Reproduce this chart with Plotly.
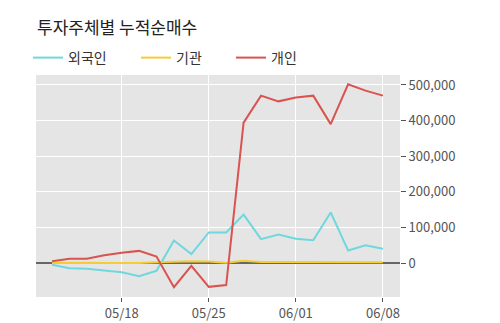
import plotly.graph_objects as go

dates = ["05/12", "05/13", "05/14", "05/15", "05/18", "05/19", "05/20", "05/21", "05/22",
         "05/25", "05/26", "05/27", "05/28", "05/29", "06/01", "06/02", "06/03", "06/04",
         "06/05", "06/08"]
foreign = [-5000, -15000, -16000, -20000, -26000, -37000, -22000, 63000, 25000, 86000,
           86000, 136000, 67000, 80000, 68000, 64000, 142000, 35000, 50000, 40000]
institution = [0, 1000, 1000, 0, -1000, 0, 2000, 4000, 5000, 4000,
               1000, 6000, 3000, 3000, 3000, 3000, 3000, 2000, 2000, 2000]
individual = [5000, 12000, 12000, 22000, 29000, 34000, 18000, -68000, -8000, -67000,
              -62000, 394000, 470000, 454000, 465000, 470000, 390000, 502000, 484000, 470000]
tick_labels = ["05/18", "05/25", "06/01", "06/08"]
tick_values = [0, 100000, 200000, 300000, 400000, 500000]

FONT = "Noto Sans CJK KR"

series = [("외국인", foreign, "#6fd8dc", "legend", 28),
          ("기관", institution, "#f5cc35", "legend2", 136),
          ("개인", individual, "#d9534f", "legend3", 231)]

fig = go.Figure()
legends = {}
for name, vals, color, lg, lx in series:
    fig.add_trace(go.Scatter(x=dates, y=vals, name=name, mode="lines",
                             line=dict(color=color, width=2), legend=lg))
    legends[lg] = dict(orientation="h", xref="container", yref="container",
                       x=lx/500, xanchor="left", y=1 - 58/323, yanchor="middle",
                       font=dict(family=FONT, size=14, color="#333333"),
                       bgcolor="rgba(0,0,0,0)")

fig.update_layout(
    width=500, height=323,
    margin=dict(l=36, r=100, t=75, b=26, autoexpand=False),
    paper_bgcolor="white",
    plot_bgcolor="#e5e5e5",
    font=dict(family=FONT, color="#555555", size=13),
    title=dict(text="투자주체별 누적순매수", x=37/500, xanchor="left", xref="container",
               y=1 - 28/323, yanchor="middle", yref="container",
               font=dict(family=FONT, size=17, color="#222222")),
    showlegend=True,
    **legends,
)
fig.update_xaxes(type="category", range=[-0.92, 19.98], tickmode="array",
                 tickvals=tick_labels, ticktext=tick_labels,
                 showgrid=True, gridcolor="white", gridwidth=1,
                 ticks="outside", ticklen=4, tickcolor="#555555",
                 zeroline=False, showline=False)
fig.update_yaxes(side="right", range=[-95500, 528000], tickmode="array",
                 tickvals=tick_values, tickformat=",",
                 showgrid=True, gridcolor="white", gridwidth=1,
                 ticks="outside", ticklen=5, tickcolor="#555555",
                 zeroline=True, zerolinecolor="#666666", zerolinewidth=1.5,
                 showline=False)

fig.write_html("out.html")
